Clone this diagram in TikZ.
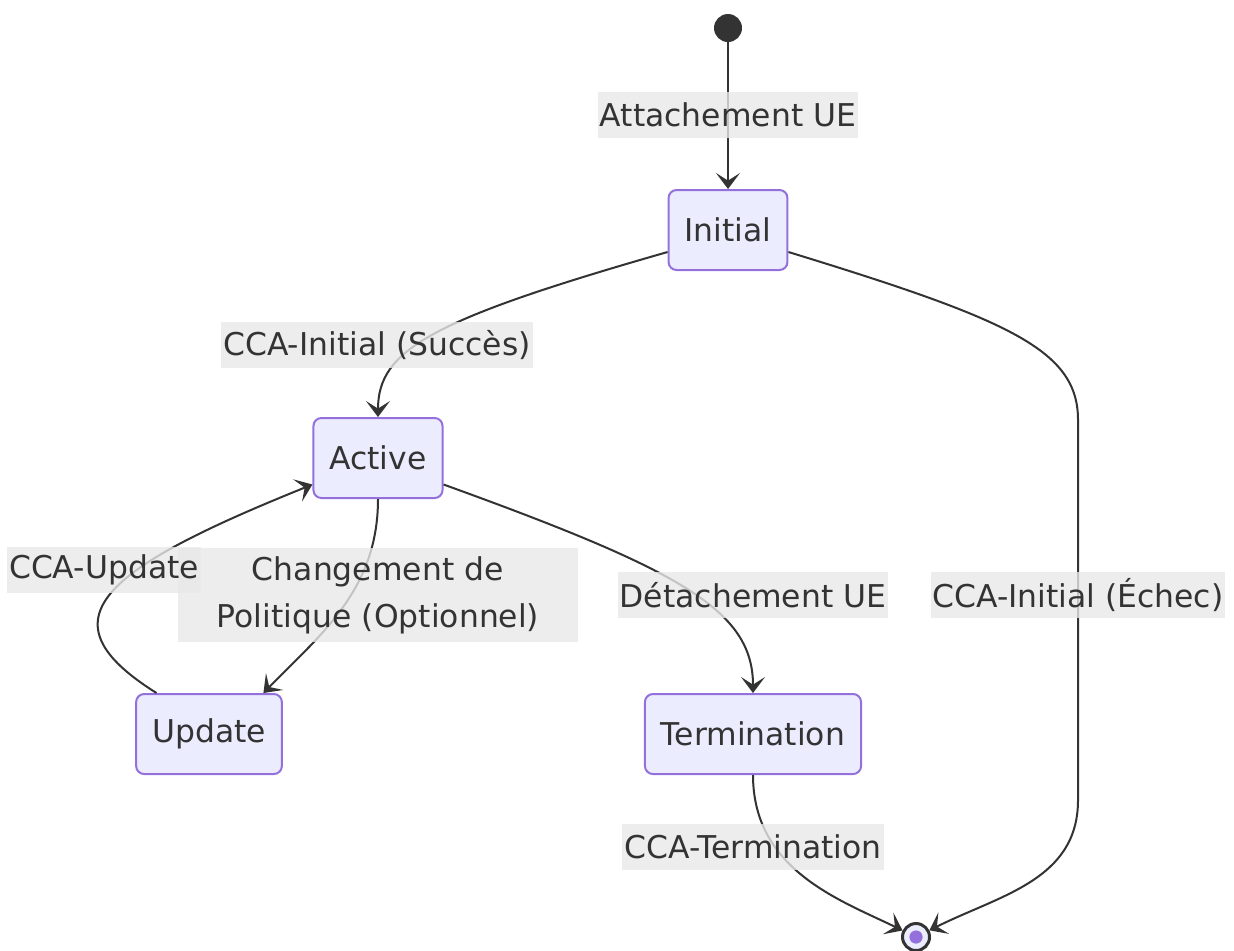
\documentclass[tikz,border=0pt]{standalone}
\usepackage{fontspec}
\setmainfont{DejaVu Sans}
\usetikzlibrary{arrows.meta}
\definecolor{statefill}{HTML}{ECECFF}
\definecolor{stateline}{HTML}{9370DB}
\definecolor{edgeline}{HTML}{333333}
\definecolor{labelfill}{HTML}{E8E8E8}

\begin{document}
\begin{tikzpicture}[x=0.5pt,y=-0.5pt,
    state/.style={draw=stateline, line width=1pt, fill=statefill, rounded corners=4pt,
      minimum height=40pt, inner xsep=8pt, text=edgeline,
      font=\fontsize{15.7pt}{19pt}\selectfont},
    trans/.style={draw=edgeline, line width=1pt,
      -{Stealth[length=8pt,width=12pt,inset=3.8pt]}},
    edgelabel/.style={fill=labelfill, fill opacity=0.8, text opacity=1,
      inner xsep=1pt, inner ysep=0pt, minimum height=23pt, text=edgeline,
      font=\fontsize{15.7pt}{23.5pt}\selectfont}]
  \useasboundingbox (0,0) rectangle (1234,950);

  \node[circle, fill=edgeline, inner sep=0pt, minimum size=14pt] (start) at (728,28) {};
  \node[state] (init) at (728,230) {Initial};
  \node[state] (active) at (378,458) {Active};
  \node[state] (update) at (209,734) {Update};
  \node[state] (term) at (753,734) {Termination};
  \node[circle, draw=edgeline, line width=1.5pt, fill=statefill, inner sep=0pt,
    minimum size=13.5pt] (fin) at (916,937) {};
  \fill[stateline] (fin.center) circle [radius=3.3pt];

  \draw[trans] (start) -- (init);
  \draw[trans] (init.200) .. controls (430,320) and (378,350) .. (active.north);
  \draw[trans] (init.-20) .. controls (1010,320) and (1078,350) .. (1078,420)
    -- (1078,800) .. controls (1078,880) and (1000,895) .. (fin);
  \draw[trans] (active.-22) .. controls (680,570) and (753,610) .. (term.north);
  \draw[trans] (active.south) .. controls (378,590) and (320,635) .. (update.37);
  \draw[trans] (update.142) .. controls (40,620) and (100,570) .. (active.202);
  \draw[trans] (term.south) .. controls (753,870) and (840,900) .. (fin);

  \node[edgelabel] (lblattach) at (728,115) {Attachement UE};
  \node[edgelabel] (lblsucces) at (377,345) {CCA-Initial (Succès)};
  \node[edgelabel, text width=198pt, align=center, minimum height=47pt]
    (lblpolitique) at (378,595) {Changement de\\Politique (Optionnel)};
  \node[edgelabel] (lblupdate) at (104,570) {CCA-Update};
  \node[edgelabel] (lbldetach) at (753,595) {Détachement UE};
  \node[edgelabel] (lblechec) at (1078,595) {CCA-Initial (Échec)};
  \node[edgelabel] (lbltermin) at (753,847) {CCA-Termination};
\end{tikzpicture}
\end{document}
